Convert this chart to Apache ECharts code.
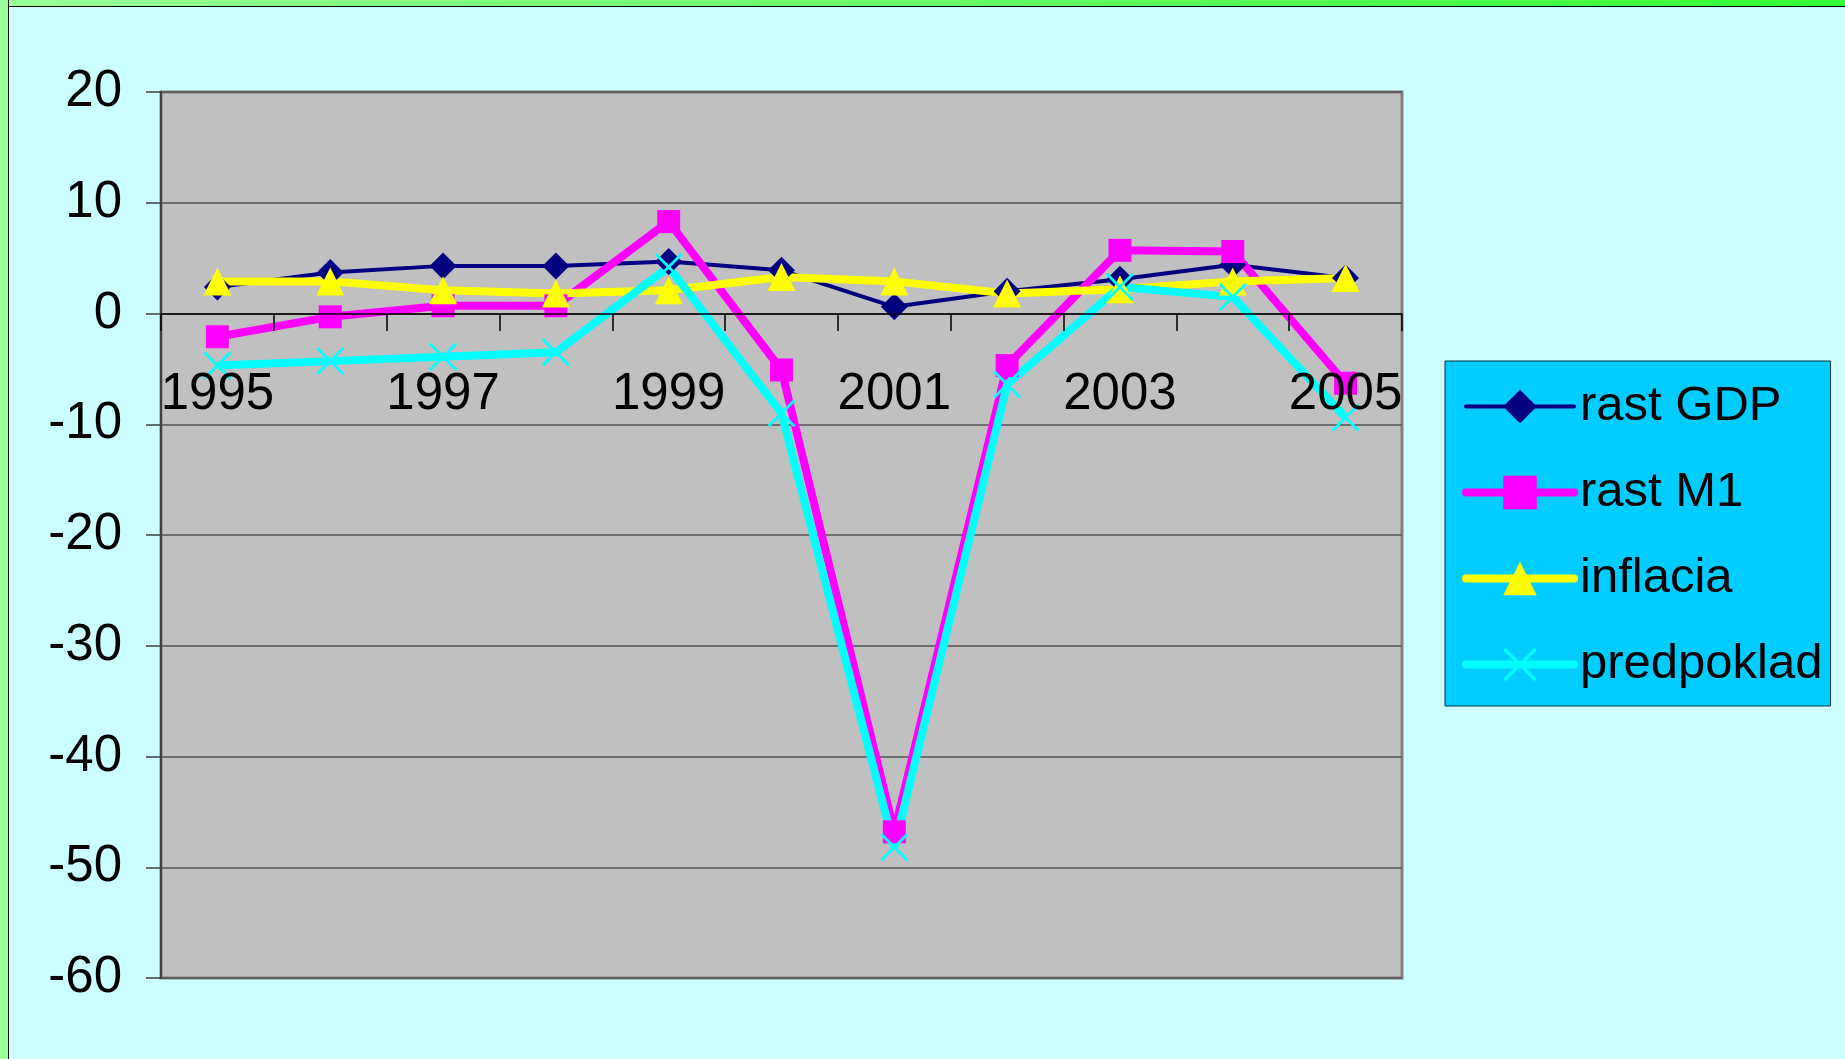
<!DOCTYPE html>
<html>
<head>
<meta charset="utf-8">
<script src="https://cdn.jsdelivr.net/npm/echarts@6/dist/echarts.min.js"></script>
<style>
html,body{margin:0;padding:0;background:#CCFFFF;overflow:hidden;}
#chart{position:absolute;left:0;top:0;width:1845px;height:1059px;}
#topb{position:absolute;left:0;top:0;width:1845px;height:6px;background:linear-gradient(to right,#99ff99,#33ff33);border-bottom:1px solid #000;}
#leftb{position:absolute;left:0;top:0;width:8px;height:1059px;background:#99ff99;border-right:1px solid #000;}
</style>
</head>
<body>
<div id="chart"></div>
<div id="topb"></div>
<div id="leftb"></div>
<script>
var years = ['1995','1996','1997','1998','1999','2000','2001','2002','2003','2004','2005'];
var rastGDP   = [2.4, 3.7, 4.3, 4.3, 4.7, 3.9, 0.6, 2.0, 3.1, 4.4, 3.2];
var rastM1    = [-2.1, -0.3, 0.7, 0.7, 8.3, -5.1, -46.8, -4.7, 5.7, 5.6, -6.3];
var inflacia  = [2.9, 2.9, 2.1, 1.8, 2.1, 3.3, 2.9, 1.8, 2.2, 2.9, 3.2];
var predpoklad= [-4.7, -4.3, -3.9, -3.5, 4.2, -9.0, -48.2, -6.4, 2.4, 1.5, -9.4];
var yTicks = {min:-60, max:20, interval:10};

var FONT = '"Liberation Sans", Arial, sans-serif';
var xSym = 'path://M0,7L7,0L50,43L93,0L100,7L57,50L100,93L93,100L50,57L7,100L0,93L43,50Z';

var chart = echarts.init(document.getElementById('chart'), null, {width:1845, height:1059});
chart.setOption({
  backgroundColor: 'transparent',
  animation: false,
  grid: {left:161, top:92, width:1241, height:886, containLabel:false, outerBoundsMode:'none',
         show:true, backgroundColor:'#C0C0C0', borderColor:'#808080', borderWidth:3},
  legend: {
    orient:'vertical', left:1445, top:361,
    backgroundColor:'#00CCFF', borderColor:'#003344', borderWidth:1,
    padding:[21,8,17,17], itemWidth:108, itemHeight:42, itemGap:37,
    textStyle:{fontFamily:FONT, fontSize:49, color:'#000', padding:[0,0,0,1]},
    data:[
      {name:'rast GDP', lineStyle:{width:4, cap:'round'}},
      {name:'rast M1', lineStyle:{width:8, cap:'round'}},
      {name:'inflacia', lineStyle:{width:8, cap:'round'}},
      {name:'predpoklad', lineStyle:{width:8, cap:'round'}}
    ]
  },
  xAxis: {
    type:'category', data:years, boundaryGap:true, position:'bottom', offset:-664, z:10,
    axisLine:{onZero:false, lineStyle:{color:'#000', width:1.5}},
    axisTick:{show:true, interval:0, length:17, lineStyle:{color:'#000', width:1.5}},
    axisLabel:{interval:1, margin:55, fontFamily:FONT, fontSize:51, color:'#000'},
    splitLine:{show:false}
  },
  yAxis: {
    type:'value', min:yTicks.min, max:yTicks.max, interval:yTicks.interval,
    axisLine:{show:true, onZero:false, lineStyle:{color:'#404040', width:2}},
    axisTick:{show:true, length:15, lineStyle:{color:'#404040', width:1.5}},
    axisLabel:{margin:39, fontFamily:FONT, fontSize:51, color:'#000'},
    splitLine:{show:true, lineStyle:{color:'#555', width:1.5}}
  },
  series: [
    {name:'rast GDP', type:'line', data:rastGDP, symbol:'diamond', symbolSize:27,
     lineStyle:{color:'#000080', width:4}, itemStyle:{color:'#000080'}},
    {name:'rast M1', type:'line', data:rastM1, symbol:'rect', symbolSize:23,
     lineStyle:{color:'#FF00FF', width:8}, itemStyle:{color:'#FF00FF'}},
    {name:'inflacia', type:'line', data:inflacia, symbol:'triangle', symbolSize:28,
     lineStyle:{color:'#FFFF00', width:8}, itemStyle:{color:'#FFFF00'}},
    {name:'predpoklad', type:'line', data:predpoklad, symbol:xSym, symbolSize:28,
     lineStyle:{color:'#00FFFF', width:8}, itemStyle:{color:'#00FFFF'}}
  ]
});
</script>
</body>
</html>
